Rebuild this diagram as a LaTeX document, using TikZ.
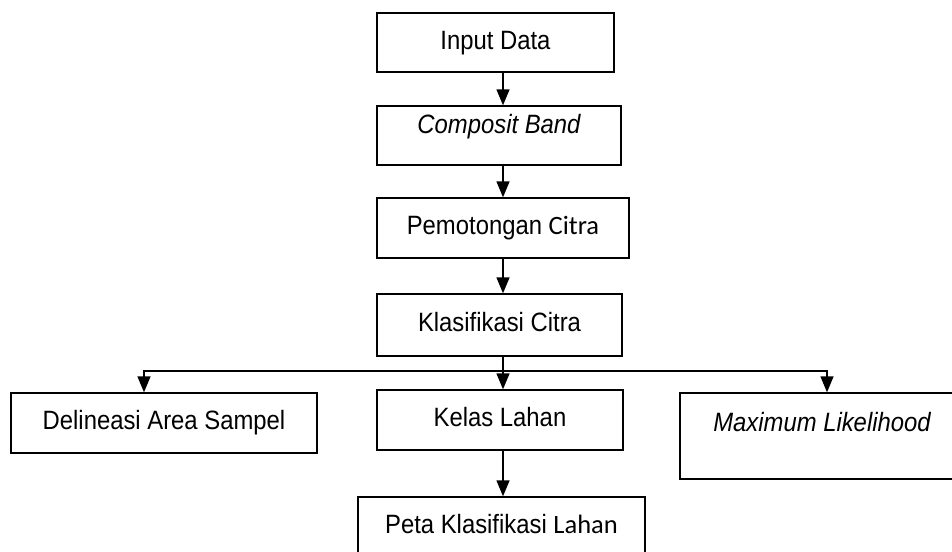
\documentclass[tikz,border=0pt]{standalone}
\usepackage{fontspec}
\setmainfont{Liberation Sans}[FakeStretch=0.9]
\newfontfamily\calibfont{Carlito}
\usetikzlibrary{arrows.meta}

\begin{document}
\begin{tikzpicture}[
  x=1pt, y=-1pt, line join=miter,
  box/.style={draw, line width=1.4pt, inner sep=0pt, text height=18pt, text depth=5pt,
    font=\fontsize{26.5}{30}\selectfont},
  link/.style={line width=1.4pt},
  flow/.style={link, -{Triangle[length=16pt,width=13pt]}}]

\useasboundingbox (0,0) rectangle (952,551);

% ---- main column ------------------------------------------------------
\node[box, minimum width=237pt, minimum height=59pt] (indata) at (495.5,42.5) {Input Data};
\node[box, minimum width=244pt, minimum height=59pt, text depth=23pt] (compband) at (499,135.5)
  {\itshape Composit Band};
\node[box, minimum width=252pt, minimum height=60pt] (potong) at (503,228)
  {Pemotongan {\calibfont Citra}};
\node[box, minimum width=245pt, minimum height=62pt] (klasif) at (499.5,325) {Klasifikasi Citra};

% ---- the three branches -----------------------------------------------
\node[box, minimum width=306pt, minimum height=60pt] (delin) at (164,423) {Delineasi Area Sampel};
\node[box, minimum width=246pt, minimum height=60pt] (kelas) at (500,420) {Kelas Lahan};
\node[box, minimum width=284pt, minimum height=86pt, text depth=28pt] (maxlik) at (822,436)
  {\itshape Maximum Likelihood};
\node[box, minimum width=287pt, minimum height=60pt] (peta) at (501.5,527)
  {Peta Klasifikasi {\calibfont Lahan}};

% ---- connectors ---------------------------------------------------------
\coordinate (spine) at (503,0);
\coordinate (split) at (503,371);
\coordinate (leftdrop) at (144,371);
\coordinate (rightdrop) at (827,371);

\draw[flow] (indata.south -| spine) -- (compband.north -| spine);
\draw[flow] (compband.south -| spine) -- (potong.north -| spine);
\draw[flow] (potong.south -| spine) -- (klasif.north -| spine);
\draw[link] (klasif.south -| spine) -- (split);
\draw[flow] (split) -- (kelas.north -| spine);
\draw[flow] (split) -- (leftdrop) -- (leftdrop |- delin.north);
\draw[flow] (split) -- (rightdrop) -- (rightdrop |- maxlik.north);
\draw[flow] (kelas.south -| spine) -- (peta.north -| spine);

\end{tikzpicture}
\end{document}
